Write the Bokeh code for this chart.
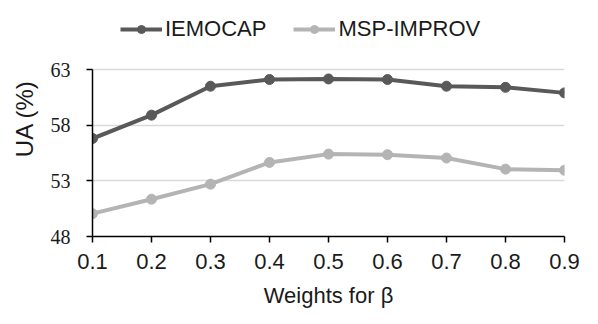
from bokeh.plotting import figure
from bokeh.models import Range1d, FixedTicker, Legend, LegendItem
from bokeh.embed import file_html
from bokeh.resources import INLINE

weights = [0.1, 0.2, 0.3, 0.4, 0.5, 0.6, 0.7, 0.8, 0.9]
iemocap = [56.8, 58.9, 61.5, 62.1, 62.15, 62.1, 61.5, 61.4, 60.9]
msp_improv = [50.05, 51.35, 52.7, 54.65, 55.4, 55.35, 55.05, 54.05, 53.95]
y_ticks = [48, 53, 58, 63]
x_label = "Weights for β"
y_label = "UA (%)"

dark = "#595959"
light = "#b4b4b4"

W, H = 598, 324
left, right, bottom = 92, 34, 88
y_lo, y_hi = y_ticks[0], y_ticks[-1]
plot_px = 167  # pixel height of the 48..63 span
frame_h = H - bottom
y_top = y_lo + frame_h * (y_hi - y_lo) / plot_px

p = figure(width=W, height=H, output_backend="svg", toolbar_location=None,
           x_range=Range1d(weights[0], weights[-1]), y_range=Range1d(y_lo, y_top),
           min_border_left=left, min_border_right=right, min_border_top=0,
           min_border_bottom=bottom)
p.outline_line_color = None
p.background_fill_color = "white"

r1l = p.line(weights, iemocap, line_color=dark, line_width=4)
r1s = p.scatter(weights, iemocap, fill_color=dark, line_color=dark, size=10)
r2l = p.line(weights, msp_improv, line_color=light, line_width=4)
r2s = p.scatter(weights, msp_improv, fill_color=light, line_color=light, size=10)

p.xaxis.ticker = FixedTicker(ticks=weights)
p.yaxis.ticker = FixedTicker(ticks=y_ticks)
p.yaxis.bounds = (y_lo, y_hi)
p.xgrid.grid_line_color = None
p.ygrid.grid_line_color = "#d9d9d9"
p.ygrid.grid_line_width = 1.5

for ax in (p.xaxis[0], p.yaxis[0]):
    ax.axis_line_color = "black"
    ax.axis_line_width = 1.5
    ax.major_tick_line_color = "black"
    ax.major_tick_line_width = 1.5
    ax.major_tick_in = 0
    ax.major_tick_out = 6
    ax.minor_tick_line_color = None
    ax.axis_label_text_font_style = "normal"
    ax.axis_label_text_color = "#1a1a1a"
    ax.major_label_text_color = "#1a1a1a"

p.xaxis.major_label_text_font = "Liberation Sans"
p.xaxis.major_label_text_font_size = "22px"
p.xaxis.major_label_standoff = 11
p.xaxis.axis_label = x_label
p.xaxis.axis_label_text_font = "Liberation Sans"
p.xaxis.axis_label_text_font_size = "22px"
p.xaxis.axis_label_standoff = 11

p.yaxis.major_label_text_font = "Liberation Serif"
p.yaxis.major_label_text_font_size = "20px"
p.yaxis.major_label_standoff = 16
p.yaxis.axis_label = y_label
p.yaxis.axis_label_text_font = "Liberation Sans"
p.yaxis.axis_label_text_font_size = "24px"
p.yaxis.axis_label_standoff = 10

legend = Legend(items=[LegendItem(label="IEMOCAP", renderers=[r1l, r1s]),
                       LegendItem(label="MSP-IMPROV", renderers=[r2l, r2s])],
                orientation="horizontal", location=(28, 194),
                glyph_width=42, glyph_height=20, label_standoff=3, spacing=27,
                padding=0, margin=0, border_line_color=None, background_fill_alpha=0,
                label_text_font="Liberation Sans", label_text_font_size="22px",
                label_text_color="#1a1a1a")
p.add_layout(legend, "center")

open("out.html", "w").write(file_html(p, INLINE))
